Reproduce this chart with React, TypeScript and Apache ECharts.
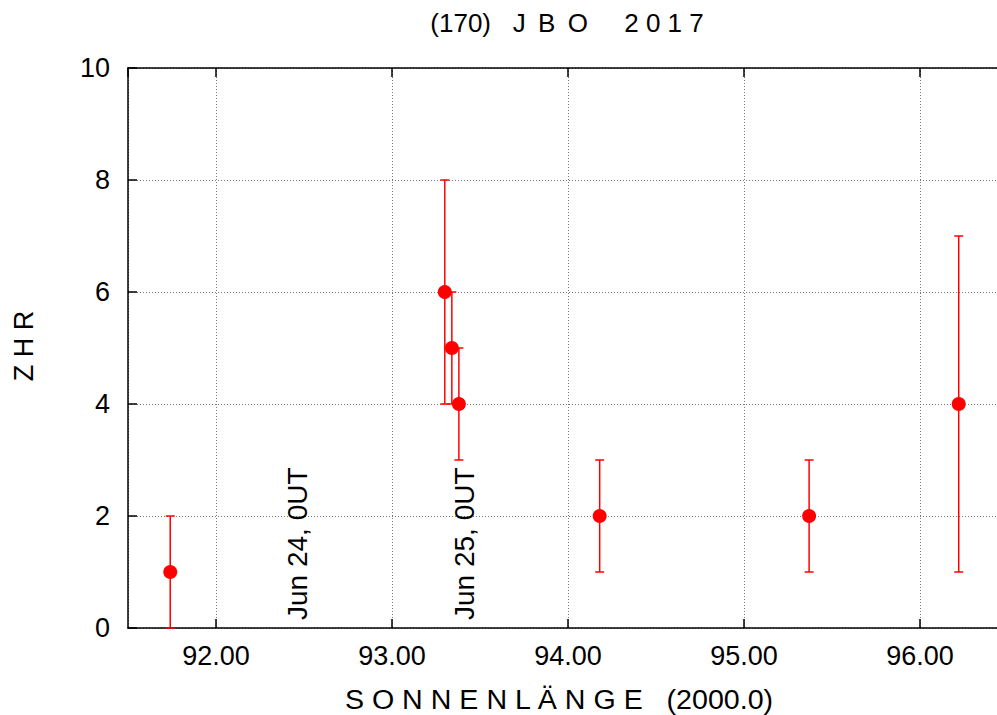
import React, { useEffect, useRef } from "react";
import * as echarts from "echarts";

const titleText = "(170)   J \u2009B \u2009O     2 0 1 7";
const xName = "S O N N E N L Ä N G E   (2000.0)";
const yName = "Z H R";
const solarLongitude = [91.74, 93.3, 93.34, 93.38, 94.18, 95.37, 96.22];
const zhr = [1, 6, 5, 4, 2, 2, 4];
const zhrLow = [0, 4, 4, 3, 1, 1, 1];
const zhrHigh = [2, 8, 6, 5, 3, 3, 7];
const dateLabels = ["Jun 24, 0UT", "Jun 25, 0UT"];

const FONT = "'Liberation Sans', Arial, Helvetica, sans-serif";

export default function App() {
  const ref = useRef<HTMLDivElement>(null);
  useEffect(() => {
    if (!ref.current) return;
    const chart = echarts.init(ref.current, null, { renderer: "svg" });
    const pts = solarLongitude.map((x, i) => [x, zhr[i]]);
    const bars = solarLongitude.map((x, i) => [x, zhrLow[i], zhrHigh[i]]);
    const gridLine = { show: true, lineStyle: { color: "#777", type: [1, 2] as any, width: 1 } };
    chart.setOption({
      animation: false,
      backgroundColor: "#fff",
      textStyle: { fontFamily: FONT },
      grid: { left: 128, top: 68, width: 880, height: 560 },
      xAxis: [
        {
          type: "value",
          min: 91.5,
          max: 96.5,
          splitNumber: 5,
          position: "bottom",
          axisLine: { show: true, lineStyle: { color: "#000", width: 1.5 } },
          axisTick: { show: true, inside: true, length: 9, lineStyle: { color: "#000", width: 1.5 } },
          axisLabel: {
            show: true,
            showMinLabel: false,
            showMaxLabel: false,
            fontSize: 27,
            color: "#000",
            margin: 14,
            fontFamily: FONT,
            formatter: (v: number) => v.toFixed(2),
          },
          splitLine: gridLine,
        },
        {
          type: "value",
          min: 91.5,
          max: 96.5,
          splitNumber: 5,
          position: "top",
          axisLine: { show: true, lineStyle: { color: "#000", width: 1.5 } },
          axisTick: { show: true, inside: true, length: 9, lineStyle: { color: "#000", width: 1.5 } },
          axisLabel: { show: false },
          splitLine: { show: false },
        },
      ],
      yAxis: {
        type: "value",
        min: 0,
        max: 10,
        interval: 2,
        axisLine: { show: true, lineStyle: { color: "#000", width: 1.5 } },
        axisTick: { show: true, inside: true, length: 9, lineStyle: { color: "#000", width: 1.5 } },
        axisLabel: { fontSize: 27, color: "#000", margin: 18, fontFamily: FONT },
        splitLine: gridLine,
      },
      graphic: [
        {
          type: "text",
          x: 567,
          y: 23,
          style: { text: titleText, fontSize: 26, fontFamily: FONT, fill: "#000", align: "center", verticalAlign: "middle" },
        },
        {
          type: "text",
          x: 559,
          y: 700,
          scaleX: 1.06,
          style: { text: xName, fontSize: 27, fontFamily: FONT, fill: "#000", align: "center", verticalAlign: "middle" },
        },
        {
          type: "text",
          x: 24,
          y: 346,
          rotation: Math.PI / 2,
          style: { text: yName, fontSize: 27, fontFamily: FONT, fill: "#000", align: "center", verticalAlign: "middle" },
        },
        {
          type: "text",
          x: 297,
          y: 620,
          rotation: Math.PI / 2,
          z: 10,
          style: { text: dateLabels[0], fontSize: 28, fontFamily: FONT, fill: "#000", align: "left", verticalAlign: "middle" },
        },
        {
          type: "text",
          x: 464,
          y: 620,
          rotation: Math.PI / 2,
          z: 10,
          style: { text: dateLabels[1], fontSize: 28, fontFamily: FONT, fill: "#000", align: "left", verticalAlign: "middle" },
        },
      ],
      series: [
        {
          type: "custom",
          xAxisIndex: 0,
          data: bars,
          z: 3,
          renderItem: (params: any, api: any) => {
            const x = api.value(0);
            const lo = api.coord([x, api.value(1)]);
            const hi = api.coord([x, api.value(2)]);
            const hw = 4.5;
            const style = { stroke: "#ff0000", lineWidth: 1.5 };
            return {
              type: "group",
              children: [
                { type: "line", shape: { x1: lo[0], y1: lo[1], x2: hi[0], y2: hi[1] }, style },
                { type: "line", shape: { x1: hi[0] - hw, y1: hi[1], x2: hi[0] + hw, y2: hi[1] }, style },
                { type: "line", shape: { x1: lo[0] - hw, y1: lo[1], x2: lo[0] + hw, y2: lo[1] }, style },
              ],
            };
          },
        },
        {
          type: "scatter",
          xAxisIndex: 0,
          data: pts,
          symbol: "circle",
          symbolSize: 14,
          itemStyle: { color: "#ff0000", opacity: 1 },
          z: 4,
        },
      ],
    });
    return () => chart.dispose();
  }, []);
  return (
    <div style={{ position: "absolute", left: 0, top: 0, width: 997, height: 715, overflow: "hidden", background: "#fff" }}>
      <div ref={ref} style={{ position: "absolute", left: 0, top: 0, width: 1030, height: 715 }} />
    </div>
  );
}
